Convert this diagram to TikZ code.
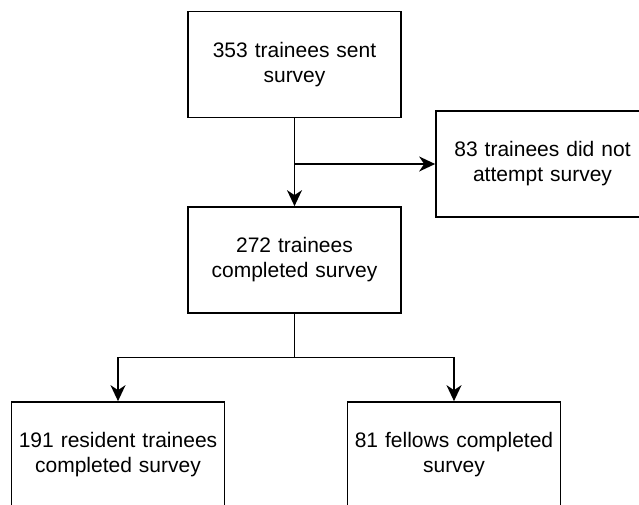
\documentclass[tikz,border=0pt]{standalone}
\usepackage{fontspec}
\setmainfont{Liberation Sans}
\usepackage{xcolor}
\definecolor{ink}{HTML}{000000}
\usepackage{tikz}
\usetikzlibrary{arrows.meta,positioning,calc}
\tikzset{
  every picture/.style={line width=1.7pt, x=1pt, y=-1pt},
  box/.style={draw=ink, fill=white, align=center, text width=#1, minimum width=213pt,
    minimum height=106pt, inner sep=0pt, font=\fontsize{21}{25}\selectfont},
  box/.default=200pt,
  arrow/.style={-{Stealth[length=16pt, width=15pt, inset=5pt]}, draw=ink},
}

\begin{document}
\begin{tikzpicture}
  \clip (0,0) rectangle (639,504);
  \node[box] (sent) at (294.5,64.5) {353 trainees sent\\survey};
  \node[box] (notdone) at (542.5,164) {83 trainees did not\\attempt survey};
  \node[box] (done) at (294.5,260) {272 trainees\\completed survey};
  \node[box] (resident) at (118,455) {191 resident trainees\\completed survey};
  \node[box] (fellows) at (454,455) {81 fellows completed\\survey};
  \coordinate (split1) at (sent.south |- notdone.west);
  \coordinate (split2) at ($(done.south)!0.5!(done.south |- resident.north)$);
  \draw[arrow] (sent) -- (done);
  \draw[arrow] (split1) -- (notdone);
  \draw (done) -- (split2);
  \draw[arrow] (split2) -| (resident);
  \draw[arrow] (split2) -| (fellows);
\end{tikzpicture}
\end{document}
